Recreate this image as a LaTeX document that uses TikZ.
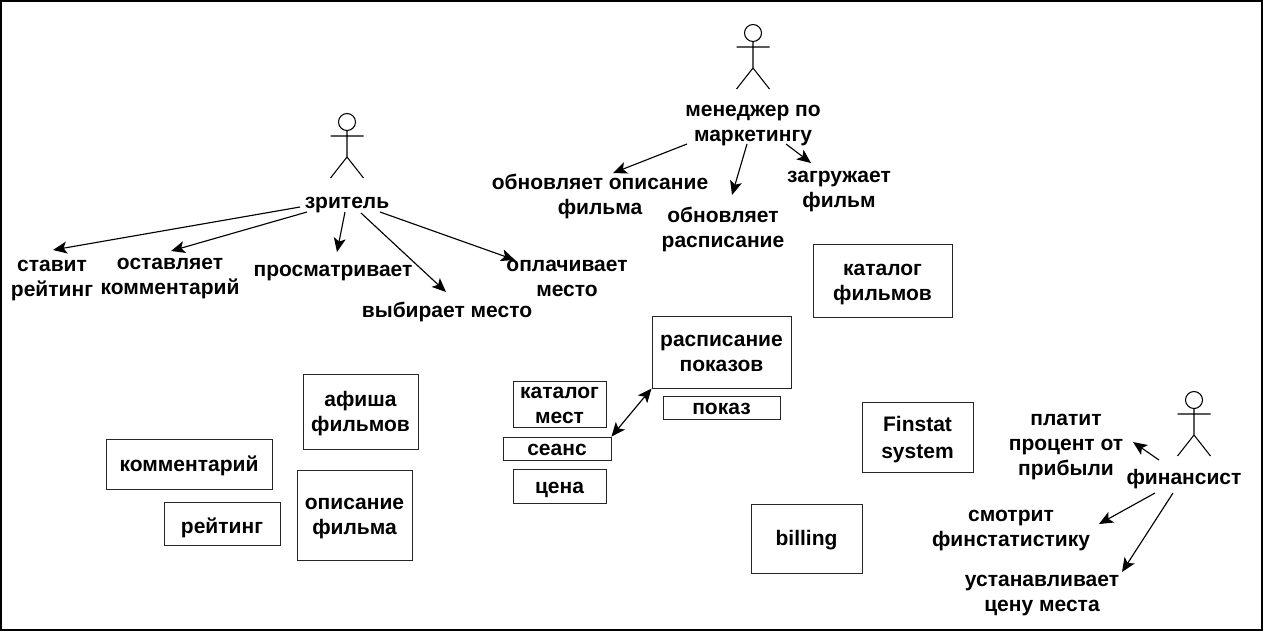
\documentclass[tikz,border=0pt]{standalone}
\usepackage{fontspec}
\setmainfont{Liberation Sans}
\usetikzlibrary{arrows.meta}
\tikzset{
    lbl/.style={inner sep=0pt, align=center, text height=11pt, text depth=0pt, font=\bfseries\fontsize{15.75}{18.75}\selectfont},
    two/.style={text height=29.75pt},
    three/.style={text height=48.5pt},
    boxed/.style 2 args={lbl, draw=black!85, line width=0.7pt, minimum width=#1*0.75pt, minimum height=#2*0.75pt},
    arr/.style={-{Stealth[length=10.5pt, width=9pt, inset=2.5pt]}, line width=0.85pt},
    actorman/.pic={
        \draw[line width=0.8pt] (0,0) circle (8.5);
        \draw[line width=0.8pt] (0,8.5) -- (0,35) (-16.5,14) -- (16.5,14) (-16.5,56) -- (0,35) -- (16.5,56);
    }
}
\begin{document}
\begin{tikzpicture}[x=0.75pt, y=-0.75pt]
    \useasboundingbox (0,0) rectangle (1263,633);
    % Frame
    \draw[line width=0.85pt] (1,1) rectangle (1262,630);

    % Actors
    \pic at (347,122) {actorman};
    \pic at (753,33) {actorman};
    \pic at (1194,400) {actorman};
    \node[lbl] (viewer) at (347,201) {зритель};
    \node[lbl, two] (manager) at (753,122) {менеджер по\\маркетингу};
    \node[lbl] (financier) at (1184,477) {финансист};

    % Viewer actions
    \node[lbl, two] (rate) at (52,277) {ставит\\рейтинг};
    \node[lbl, two] (comment) at (170,275) {оставляет\\комментарий};
    \node[lbl] (watch) at (333,269) {просматривает};
    \node[lbl] (seat) at (447,310) {выбирает место};
    \node[lbl, two] (pay) at (567,277) {оплачивает\\место};
    \draw[arr] ([shift={(-47,6)}]viewer.center) -- ([shift={(1,-27)}]rate.center);
    \draw[arr] ([shift={(-40,11)}]viewer.center) -- ([shift={(1,-24)}]comment.center);
    \draw[arr] ([shift={(-2,11)}]viewer.center) -- ([shift={(4,-17)}]watch.center);
    \draw[arr] ([shift={(14,12)}]viewer.center) -- ([shift={(-1,-18)}]seat.center);
    \draw[arr] ([shift={(33,11)}]viewer.center) -- ([shift={(-52,-17)}]pay.center);

    % Manager actions
    \node[lbl, two] (descr) at (600,195) {обновляет описание\\фильма};
    \node[lbl, two] (sched) at (723,228) {обновляет\\расписание};
    \node[lbl, two] (upload) at (839,188) {загружает\\фильм};
    \draw[arr] ([shift={(-66,22)}]manager.center) -- ([shift={(13,-22)}]descr.center);
    \draw[arr] ([shift={(-6,22)}]manager.center) -- ([shift={(9,-33)}]sched.center);
    \draw[arr] ([shift={(33,22)}]manager.center) -- ([shift={(-28,-25)}]upload.center);

    % Financier actions
    \node[lbl, three] (percent) at (1066,443) {платит\\процент от\\прибыли};
    \node[lbl, two] (stats) at (1011,527) {смотрит\\финстатистику};
    \node[lbl, two] (price) at (1042,592) {устанавливает\\цену места};
    \draw[arr] ([shift={(-25,-17)}]financier.center) -- ([shift={(67,-1)}]percent.center);
    \draw[arr] ([shift={(-29,16)}]financier.center) -- ([shift={(88,-3)}]stats.center);
    \draw[arr] ([shift={(-11,16)}]financier.center) -- ([shift={(80,-20)}]price.center);

    % Boxes
    \node[boxed={139}{73}, two] (catalog) at (882.5,280.5) {каталог\\фильмов};
    \node[boxed={139}{72}, two] (schedule) at (721.5,352) {расписание\\показов};
    \node[boxed={117}{23}] (show) at (721.5,407.5) {показ};
    \node[boxed={93}{46}, two] (seats) at (559.5,404) {каталог\\мест};
    \node[boxed={108}{23}] (session) at (557,448.5) {сеанс};
    \node[boxed={93}{34}] (pricebox) at (559.5,486) {цена};
    \node[boxed={115}{75}, two] (poster) at (360.5,411.5) {афиша\\фильмов};
    \node[boxed={166}{50}] (commentbox) at (189,464) {комментарий};
    \node[boxed={116}{43}, text height=15pt] (ratingbox) at (222,523.5) {рейтинг};
    \node[boxed={115}{90}, two] (filmdescr) at (354.5,515) {описание\\фильма};
    \node[boxed={111}{70}, text height=32.75pt] (finstat) at (917.5,437) {Finstat\\[2pt]system};
    \node[boxed={111}{69}] (billing) at (806.5,538.5) {billing};

    % Session link
    \draw[{Stealth[length=10.5pt, width=9pt, inset=2.5pt]}-{Stealth[length=10.5pt, width=9pt, inset=2.5pt]}, line width=0.85pt] (session.north east) -- (schedule.south west);
\end{tikzpicture}
\end{document}
